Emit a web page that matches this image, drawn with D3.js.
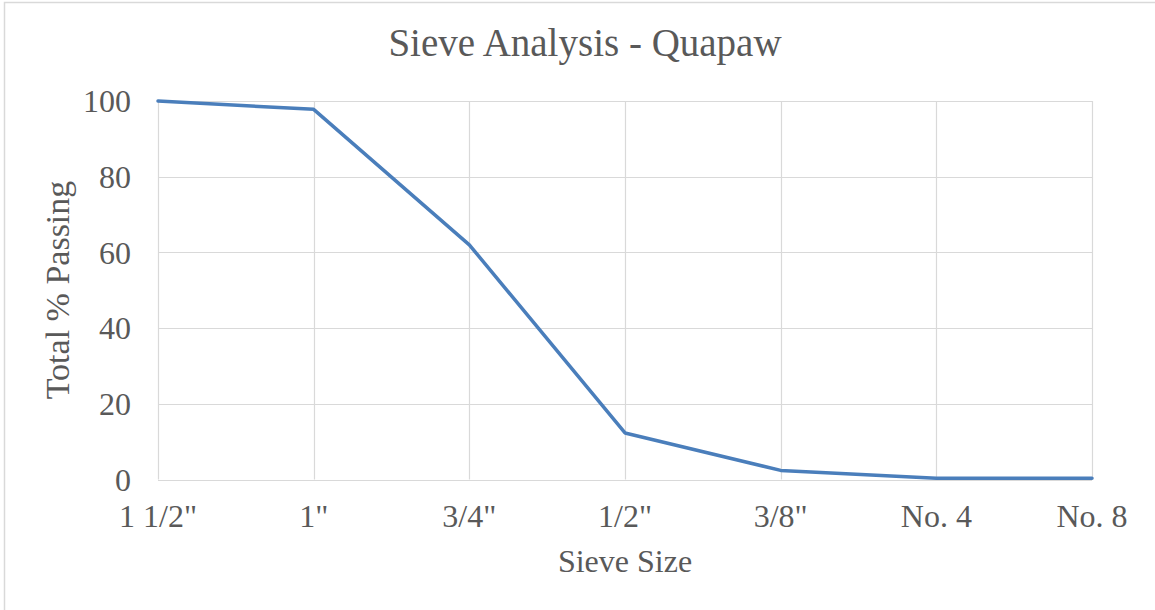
<!DOCTYPE html>
<html>
<head>
<meta charset="utf-8">
<script src="https://cdn.jsdelivr.net/npm/d3@7"></script>
<style>
  html, body { margin: 0; padding: 0; background: #fff; }
  svg { display: block; }
  text { font-family: "Liberation Serif", "Times New Roman", serif; fill: #595959; }
</style>
</head>
<body>
<script>
// Sieve sizes (x categories) and cumulative percent passing
const sieveSizes = ['1 1/2"', '1"', '3/4"', '1/2"', '3/8"', 'No. 4', 'No. 8'];
const percentPassing = [100, 97.8, 62, 12.3, 2.4, 0.3, 0.3];
const yTicks = [0, 20, 40, 60, 80, 100];

const W = 1155, H = 610;
const margin = { left: 158, right: 63, top: 101, bottom: 130.5 };

const svg = d3.select("body").append("svg")
  .attr("width", W).attr("height", H);

// chart frame
svg.append("rect")
  .attr("x", 4.5).attr("y", 2.5)
  .attr("width", W + 10).attr("height", H + 10)
  .attr("fill", "none").attr("stroke", "#d9d9d9").attr("stroke-width", 1.5);

const x = d3.scalePoint().domain(sieveSizes).range([margin.left, W - margin.right]);
const y = d3.scaleLinear().domain([0, 100]).range([H - margin.bottom, margin.top]);

// horizontal gridlines
svg.append("g").selectAll("line").data(yTicks).join("line")
  .attr("x1", margin.left).attr("x2", W - margin.right)
  .attr("y1", d => Math.round(y(d)) + 0.5).attr("y2", d => Math.round(y(d)) + 0.5)
  .attr("stroke", "#d9d9d9").attr("stroke-width", 1.2);

// vertical gridlines at each sieve
svg.append("g").selectAll("line").data(sieveSizes).join("line")
  .attr("x1", d => Math.round(x(d)) + 0.5).attr("x2", d => Math.round(x(d)) + 0.5)
  .attr("y1", margin.top).attr("y2", H - margin.bottom)
  .attr("stroke", "#d9d9d9").attr("stroke-width", 1.2);

// y tick labels
svg.append("g").selectAll("text").data(yTicks).join("text")
  .attr("x", 131).attr("y", d => y(d))
  .attr("dy", "0.35em")
  .attr("text-anchor", "end")
  .attr("font-size", 32)
  .text(d => d);

// x tick labels
svg.append("g").selectAll("text").data(sieveSizes).join("text")
  .attr("x", d => x(d)).attr("y", 527)
  .attr("text-anchor", "middle")
  .attr("font-size", 32)
  .text(d => d);

// series line
const line = d3.line()
  .x((d, i) => x(sieveSizes[i]))
  .y(d => y(d));

svg.append("path")
  .datum(percentPassing)
  .attr("d", line)
  .attr("fill", "none")
  .attr("stroke", "#4a7ebb")
  .attr("stroke-width", 3.5)
  .attr("stroke-linejoin", "round")
  .attr("stroke-linecap", "round");

// title
svg.append("text")
  .attr("x", 585).attr("y", 56)
  .attr("text-anchor", "middle")
  .attr("font-size", 39)
  .text("Sieve Analysis - Quapaw");

// axis titles
svg.append("text")
  .attr("x", 625).attr("y", 572)
  .attr("text-anchor", "middle")
  .attr("font-size", 32)
  .text("Sieve Size");

svg.append("text")
  .attr("transform", "translate(69,290) rotate(-90)")
  .attr("text-anchor", "middle")
  .attr("font-size", 34)
  .text("Total % Passing");
</script>
</body>
</html>
